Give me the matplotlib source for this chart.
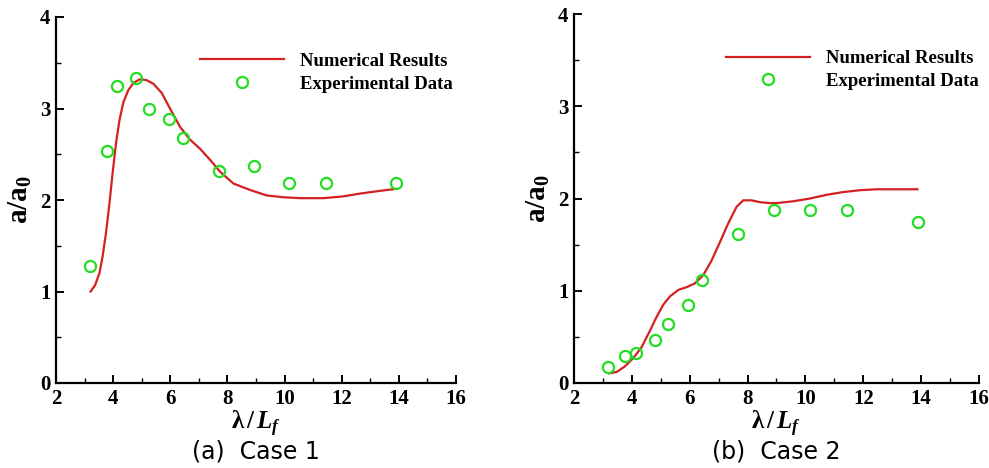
import matplotlib
matplotlib.use("Agg")
import matplotlib.pyplot as plt
from matplotlib.ticker import MultipleLocator

plt.rcParams['font.family'] = ['Liberation Serif', 'DejaVu Serif']
plt.rcParams['mathtext.fontset'] = 'custom'
plt.rcParams['mathtext.rm'] = 'Liberation Serif:bold'
plt.rcParams['mathtext.bf'] = 'Liberation Serif:bold'
plt.rcParams['mathtext.it'] = 'Liberation Serif:italic:bold'

# case 1 data
num1_x = [3.21, 3.37, 3.52, 3.63, 3.75, 3.87, 3.98, 4.10, 4.22, 4.36, 4.53, 4.71,
          4.94, 5.17, 5.41, 5.70, 5.99, 6.34, 6.69, 7.04, 7.39, 7.74, 8.21, 8.79,
          9.37, 9.96, 10.54, 11.36, 12.06, 12.64, 13.34, 13.87]
num1_y = [1.00, 1.07, 1.20, 1.38, 1.64, 1.96, 2.29, 2.62, 2.87, 3.07, 3.20, 3.28,
          3.32, 3.31, 3.27, 3.17, 3.00, 2.80, 2.66, 2.56, 2.44, 2.31, 2.18, 2.11,
          2.05, 2.03, 2.02, 2.02, 2.04, 2.07, 2.10, 2.12]
exp1_x = [3.19, 3.77, 4.15, 4.80, 5.26, 5.97, 6.44, 7.69, 8.94, 10.17, 11.46, 13.91]
exp1_y = [1.275, 2.535, 3.25, 3.33, 2.99, 2.89, 2.68, 2.32, 2.37, 2.19, 2.19, 2.19]

# case 2 data
num2_x = [3.22, 3.48, 3.76, 4.05, 4.34, 4.63, 4.86, 5.09, 5.32, 5.61, 5.90, 6.18,
          6.47, 6.76, 7.05, 7.33, 7.62, 7.85, 8.14, 8.43, 8.78, 9.01, 9.58, 10.16,
          10.73, 11.31, 11.89, 12.46, 13.27, 13.87]
num2_y = [0.105, 0.12, 0.18, 0.27, 0.39, 0.57, 0.72, 0.85, 0.94, 1.01, 1.04, 1.08,
          1.17, 1.33, 1.53, 1.73, 1.91, 1.98, 1.98, 1.96, 1.95, 1.95, 1.97, 2.00,
          2.04, 2.07, 2.09, 2.10, 2.10, 2.10]
exp2_x = [3.19, 3.76, 4.13, 4.80, 5.26, 5.95, 6.44, 7.68, 8.92, 10.16, 11.45, 13.89]
exp2_y = [0.174, 0.29, 0.325, 0.47, 0.64, 0.846, 1.12, 1.61, 1.87, 1.88, 1.88, 1.75]

captions = ["(a)  Case 1", "(b)  Case 2"]

fig = plt.figure(figsize=(9.89, 4.68), dpi=100)
ax1 = fig.add_axes([56/989, 85/468, 400/989, 366/468])
ax2 = fig.add_axes([574/989, 85/468, 405/989, 369/468])

panels = [(ax1, num1_x, num1_y, exp1_x, exp1_y, 0.36),
          (ax2, num2_x, num2_y, exp2_x, exp2_y, 0.375)]

for k, (ax, nx, ny, ex, ey, lx) in enumerate(panels):
    ax.plot(nx, ny, color='#d42020', lw=1.6, label='Numerical Results')
    ax.plot(ex, ey, 'o', mfc='none', mec='#22dd22', mew=1.6, ms=8,
            label='Experimental Data')
    ax.set_xlim(2, 16)
    ax.set_ylim(0, 4)
    ax.xaxis.set_major_locator(MultipleLocator(2))
    ax.xaxis.set_minor_locator(MultipleLocator(1))
    ax.yaxis.set_major_locator(MultipleLocator(1))
    ax.yaxis.set_minor_locator(MultipleLocator(0.5))
    ax.spines['top'].set_visible(False)
    ax.spines['right'].set_visible(False)
    for s in ['left', 'bottom']:
        ax.spines[s].set_linewidth(1.6)
    ax.tick_params(which='major', direction='in', length=6, width=1.4,
                   labelsize=15, pad=4)
    ax.tick_params(which='minor', direction='in', length=3.5, width=1.0)
    for lab in ax.get_xticklabels() + ax.get_yticklabels():
        lab.set_fontweight('bold')
    ax.set_xlabel(r'$\mathrm{\lambda}\,/\,L_f$', fontsize=18, labelpad=0)
    ax.set_ylabel(r'$\mathrm{a/a_0}$', fontsize=21, labelpad=4)
    ax.legend(loc='upper left', bbox_to_anchor=(lx, 0.902), frameon=False,
              prop={'weight': 'bold', 'size': 13.5}, handlelength=4.5,
              handletextpad=0.85, labelspacing=0.3, borderpad=0,
              borderaxespad=0, numpoints=1)
    pos = ax.get_position()
    fig.text((pos.x0 + pos.x1) / 2, 1 - 452/468, captions[k], ha='center',
             va='center', fontsize=17, family='DejaVu Sans')

fig.savefig('out.png', dpi=100)
